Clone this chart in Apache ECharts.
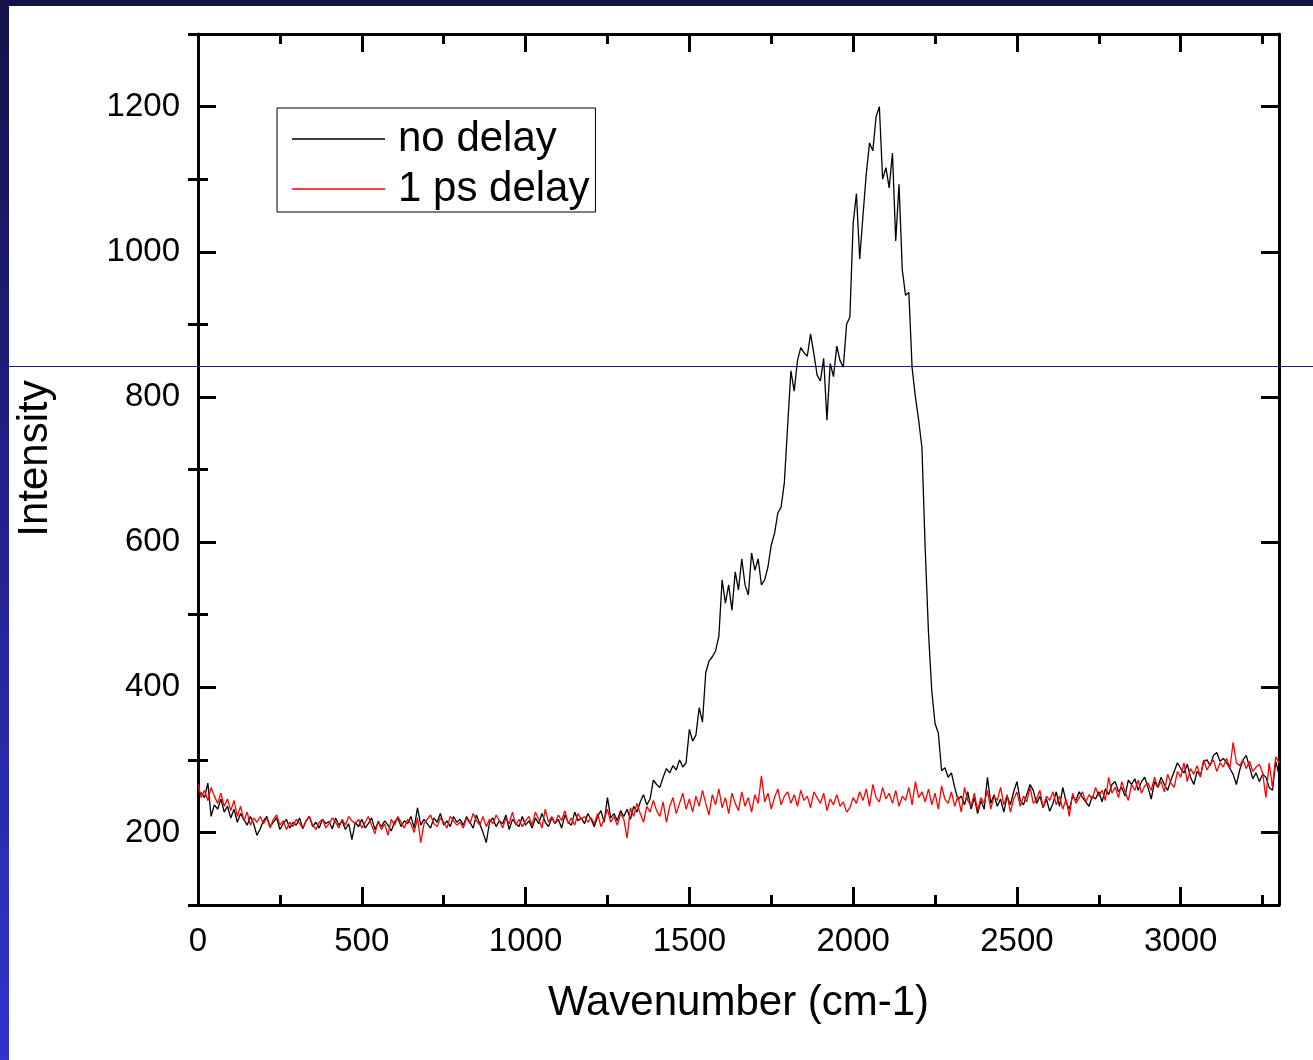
<!DOCTYPE html>
<html>
<head>
<meta charset="utf-8">
<script src="https://cdn.jsdelivr.net/npm/echarts@6/dist/echarts.min.js"></script>
<style>
  html, body { margin: 0; padding: 0; background: #ffffff; }
  #chart { width: 1313px; height: 1060px; }
</style>
</head>
<body>
<div id="chart"></div>
<script>
// Sampling grid of the spectra (cm-1)
const wavenumberStart = 0;
const wavenumberStep = 10;

// Intensity, no delay (one value per 10 cm-1, 0 .. 3300)
const noDelay = [
  245, 255, 248, 268, 222, 238, 232, 246, 228, 236,
  220, 232, 214, 226, 218, 210, 222, 212, 196, 205,
  216, 222, 208, 214, 220, 204, 212, 218, 206, 214,
  210, 220, 205, 216, 222, 208, 214, 206, 218, 212,
  215, 205, 220, 210, 216, 204, 212, 190, 214, 208,
  218, 206, 212, 220, 204, 214, 208, 216, 210, 202,
  214, 220, 208, 216, 212, 222, 206, 234, 210, 218,
  212, 206, 220, 214, 226, 210, 216, 208, 222, 214,
  218, 210, 222, 214, 206, 224, 212, 200, 186, 214,
  220, 208, 216, 212, 224, 204, 218, 212, 208, 222,
  210, 216, 206, 220, 212, 226, 214, 208, 220, 212,
  218, 206, 224, 214, 210, 228, 216, 220, 212, 226,
  218, 208, 222, 230, 214, 248, 220, 226, 216, 230,
  222, 232, 218, 236, 228, 242, 252, 238, 246, 272,
  266, 262, 276, 288, 282, 292, 286, 300, 290, 296,
  342, 326, 334, 372, 352, 420, 436, 442, 450, 470,
  548, 516, 541, 506, 559, 534, 577, 541, 527, 585,
  561, 577, 541, 548, 566, 596, 612, 640, 648, 682,
  760, 836, 808, 850, 868, 861, 856, 887, 860, 830,
  822, 853, 768, 846, 828, 870, 850, 841, 900, 910,
  1039, 1080, 990, 1050, 1107, 1150, 1139, 1186, 1200, 1100,
  1116, 1088, 1136, 1015, 1093, 975, 940, 944, 840, 800,
  768, 730, 590, 475, 395, 350, 337, 285, 289, 276,
  282, 262, 245, 250, 238, 256, 232, 248, 226, 244,
  232, 276, 240, 252, 236, 246, 228, 250, 238, 256,
  270, 244, 238, 252, 266, 258, 240, 250, 234, 246,
  229, 240, 256, 236, 262, 242, 232, 250, 244, 256,
  248, 242, 236, 250, 246, 256, 242, 260, 252, 266,
  270, 256, 262, 250, 272, 266, 274, 258, 270, 276,
  262, 246, 270, 262, 276, 266, 258, 272, 284, 296,
  288, 282, 294, 276, 266, 284, 278, 298, 300, 292,
  306, 310, 298, 302, 296, 288, 280, 266, 286, 300,
  306, 290, 274, 282, 270, 280, 276, 262, 258, 298,
  280
];

// Intensity, 1 ps delay (same grid)
const psDelay = [
  266, 248, 258, 244, 262, 250, 240, 254, 236, 246,
  230, 244, 222, 236, 216, 228, 210, 220, 214, 222,
  212, 220, 206, 218, 224, 210, 216, 204, 214, 208,
  218, 212, 206, 216, 222, 210, 204, 214, 218, 206,
  212, 220, 214, 206, 218, 210, 222, 216, 212, 218,
  206, 214, 222, 210, 198, 216, 204, 212, 196, 218,
  210, 222, 214, 206, 218, 212, 200, 220, 186, 212,
  218, 224, 212, 208, 220, 214, 206, 222, 216, 210,
  214, 206, 220, 212, 226, 216, 210, 222, 208, 218,
  212, 224, 216, 206, 220, 212, 228, 210, 218, 208,
  216, 222, 210, 228, 218, 206, 232, 214, 222, 212,
  224, 216, 230, 212, 220, 210, 226, 218, 222, 214,
  220, 212, 226, 208, 218, 232, 214, 222, 210, 226,
  218, 192, 234, 222, 240, 226, 214, 236, 228, 244,
  230, 222, 242, 214, 236, 248, 226, 240, 254, 232,
  246, 228, 250, 236, 258, 240, 224, 252, 238, 260,
  234, 248, 226, 254, 240, 230, 256, 236, 248, 228,
  252, 240, 278, 242, 254, 232, 248, 260, 238, 250,
  256, 240, 252, 236, 258, 244, 250, 234, 256, 248,
  240, 254, 230, 246, 238, 252, 236, 242, 228, 234,
  248, 240, 256, 244, 260, 236, 266, 248, 242, 262,
  246, 254, 240, 258, 236, 250, 244, 262, 238, 270,
  248, 256, 242, 260, 238, 254, 232, 264, 246, 240,
  256, 236, 250, 228, 262, 244, 236, 254, 230, 248,
  240, 258, 232, 250, 244, 262, 238, 252, 228, 246,
  256, 236, 250, 242, 262, 240, 246, 258, 234, 250,
  244, 256, 238, 250, 232, 246, 222, 254, 240, 248,
  256, 242, 252, 246, 262, 250, 258, 244, 276, 254,
  262, 248, 270, 256, 244, 266, 258, 272, 254, 264,
  268, 258, 276, 262, 270, 256, 280, 268, 262, 284,
  276, 296, 270, 288, 280, 292, 276, 300, 286, 294,
  300, 284, 296, 290, 302, 288, 324, 296, 292, 300,
  288, 298, 284, 290, 294, 282, 248, 296, 262, 304,
  296
];

const seriesNames = ['no delay', '1 ps delay'];

// Axis ticks
const xMajorTicks = [0, 500, 1000, 1500, 2000, 2500, 3000];
const xMinorTicks = [250, 750, 1250, 1750, 2250, 2750, 3250];
const yMajorTicks = [200, 400, 600, 800, 1000, 1200];
const yMinorTicks = [100, 300, 500, 700, 900, 1100, 1300];

const FONT = '"Liberation Sans", Arial, sans-serif';

function toPairs(values) {
  return values.map((v, i) => [wavenumberStart + i * wavenumberStep, v]);
}

const plainNumber = (v) => String(v);
const frameLine = { show: true, onZero: false, lineStyle: { color: '#000', width: 3 } };

function xAxisDef(position, ticks, tickLen, withLine, withLabels) {
  return {
    type: 'value', gridIndex: 0, position: position,
    min: 0, max: 3300,
    axisLine: withLine ? frameLine : { show: false },
    axisTick: { show: true, inside: true, length: tickLen, customValues: ticks,
                lineStyle: { color: '#000', width: 3 } },
    axisLabel: withLabels
      ? { show: true, customValues: xMajorTicks, formatter: plainNumber,
          fontSize: 33, color: '#000', fontFamily: FONT, margin: 20 }
      : { show: false },
    splitLine: { show: false }
  };
}

function yAxisDef(position, ticks, tickLen, withLine, withLabels) {
  return {
    type: 'value', gridIndex: 0, position: position,
    min: 100, max: 1300,
    axisLine: withLine ? frameLine : { show: false },
    axisTick: { show: true, inside: true, length: tickLen, customValues: ticks,
                lineStyle: { color: '#000', width: 3 } },
    axisLabel: withLabels
      ? { show: true, customValues: yMajorTicks, formatter: plainNumber,
          fontSize: 33, color: '#000', fontFamily: FONT, margin: 18 }
      : { show: false },
    splitLine: { show: false }
  };
}

const xMain = xAxisDef('bottom', xMajorTicks, 18, true, true);
xMain.name = 'Wavenumber (cm-1)';
xMain.nameLocation = 'middle';
xMain.nameGap = 77;
xMain.nameTextStyle = { fontSize: 42, color: '#000', fontFamily: FONT };

const yMain = yAxisDef('left', yMajorTicks, 18, true, true);
yMain.name = 'Intensity';
yMain.nameLocation = 'middle';
yMain.nameGap = 142;
yMain.nameRotate = 90;
yMain.nameTextStyle = { fontSize: 42, color: '#000', fontFamily: FONT, padding: [0, 0, 0, 22] };

const chart = echarts.init(document.getElementById('chart'), null, { renderer: 'canvas' });

chart.setOption({
  animation: false,
  backgroundColor: '#ffffff',
  textStyle: { fontFamily: FONT },
  graphic: [
    { type: 'rect', z: -10, silent: true, shape: { x: 0, y: 0, width: 1313, height: 6 },
      style: { fill: '#131347' } },
    { type: 'rect', z: -10, silent: true, shape: { x: 0, y: 0, width: 9, height: 1060 },
      style: { fill: new echarts.graphic.LinearGradient(0, 0, 0, 1, [
        { offset: 0, color: '#131347' },
        { offset: 0.5, color: '#222290' },
        { offset: 1, color: '#3333cc' }
      ]) } },
    { type: 'line', z: -10, silent: true, shape: { x1: 9, y1: 366.5, x2: 1313, y2: 366.5 },
      style: { stroke: '#1c1c8c', lineWidth: 1 } }
  ],
  grid: { left: 198, right: 34, top: 34, bottom: 155, containLabel: false },
  legend: {
    left: 277, top: 108,
    orient: 'vertical',
    backgroundColor: '#ffffff',
    borderColor: '#000', borderWidth: 1,
    padding: [9, 6, 1, 15],
    itemGap: 6,
    itemWidth: 93, itemHeight: 1.5,
    icon: 'rect',
    textStyle: { fontSize: 42, color: '#000', fontFamily: FONT, lineHeight: 44, padding: [0, 0, 0, 8] },
    data: seriesNames
  },
  xAxis: [
    xMain,
    xAxisDef('bottom', xMinorTicks, 10, false, false),
    xAxisDef('top', xMajorTicks, 18, true, false),
    xAxisDef('top', xMinorTicks, 10, false, false)
  ],
  yAxis: [
    yMain,
    yAxisDef('left', yMinorTicks, 10, false, false),
    yAxisDef('right', yMajorTicks, 18, true, false),
    yAxisDef('right', yMinorTicks, 10, false, false)
  ],
  series: [
    {
      name: seriesNames[0], type: 'line', xAxisIndex: 0, yAxisIndex: 0,
      data: toPairs(noDelay), symbol: 'none', showSymbol: false,
      lineStyle: { color: '#000000', width: 1.3 }, itemStyle: { color: '#000000' },
      z: 3
    },
    {
      name: seriesNames[1], type: 'line', xAxisIndex: 0, yAxisIndex: 0,
      data: toPairs(psDelay), symbol: 'none', showSymbol: false,
      lineStyle: { color: '#ff0000', width: 1.3 }, itemStyle: { color: '#ff0000' },
      z: 4
    }
  ]
});
</script>
</body>
</html>
